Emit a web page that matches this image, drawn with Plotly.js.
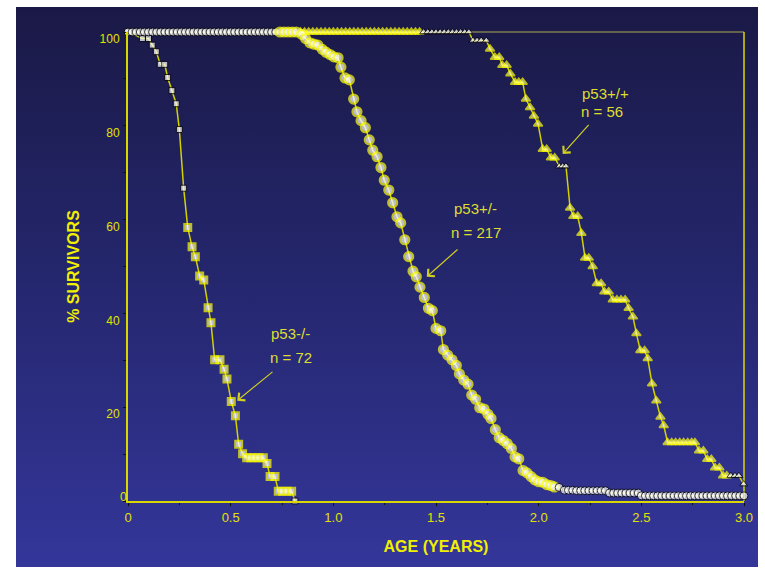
<!DOCTYPE html>
<html><head><meta charset="utf-8">
<script src="https://cdn.plot.ly/plotly-3.0.1.min.js"></script>
<style>
html,body{margin:0;padding:0;background:#ffffff;width:765px;height:573px;overflow:hidden;}
#bg{position:absolute;left:16px;top:7px;width:742px;height:560px;background:linear-gradient(to bottom,#1a1946 0%,#25276f 50%,#34369a 100%);}
#chart{position:absolute;left:0;top:0;width:765px;height:573px;}
</style></head><body><div id="bg"></div><div id="chart"></div>
<script>
// ---- p53-/- (squares), n = 72 ----
const koAge = [0, 0.07, 0.10, 0.118, 0.138, 0.157, 0.179, 0.193, 0.214, 0.235, 0.250, 0.271,
  0.291, 0.312, 0.328, 0.349, 0.369, 0.390, 0.404, 0.422, 0.448, 0.468,
  0.482, 0.503, 0.523, 0.539, 0.558, 0.578, 0.598, 0.618, 0.638, 0.659,
  0.677, 0.692, 0.716, 0.732, 0.753, 0.775, 0.797, 0.813];
const koSurv = [100, 98.6, 98.6, 97.2, 95.8, 93.1, 93.1, 90.3, 87.5, 84.7, 79.2, 66.7,
  58.3, 54.2, 52.1, 48.0, 47.1, 41.2, 38.0, 30.1, 30.1, 28.1,
  26.0, 21.2, 18.2, 12.1, 10.1, 9.2, 9.2, 9.2, 9.2, 9.2,
  8.0, 5.2, 5.2, 2.1, 2.1, 2.1, 2.1, 0];

// ---- p53+/- (circles), n = 217 ----
const hetAge = [0, 0.02, 0.04, 0.06, 0.08, 0.10, 0.12, 0.14, 0.16, 0.18, 0.20, 0.22, 0.24, 0.26, 0.28, 0.30,
  0.32, 0.34, 0.36, 0.38, 0.40, 0.42, 0.44, 0.46, 0.48, 0.50, 0.52, 0.54, 0.56, 0.58, 0.60, 0.62, 0.64,
  0.66, 0.68, 0.70, 0.72,
  0.74, 0.76, 0.78, 0.80, 0.82,
  0.846, 0.865, 0.886, 0.906, 0.925, 0.946, 0.964, 0.984, 1.002, 1.023,
  1.037, 1.057, 1.078, 1.099, 1.115, 1.135, 1.156, 1.175, 1.192, 1.213,
  1.232, 1.248, 1.270, 1.289, 1.310, 1.328, 1.348, 1.367, 1.388, 1.404,
  1.422, 1.443, 1.463, 1.482, 1.500, 1.523, 1.536, 1.557, 1.578, 1.599,
  1.614, 1.635, 1.656, 1.674, 1.693, 1.713, 1.734, 1.753, 1.768, 1.789,
  1.808, 1.828, 1.847, 1.867, 1.885, 1.903, 1.924, 1.943, 1.963, 1.981,
  2.000, 2.020, 2.039, 2.059, 2.076,
  2.100, 2.125, 2.145, 2.166, 2.185,
  2.205, 2.225, 2.245, 2.265, 2.285, 2.305, 2.325,
  2.345, 2.365, 2.385, 2.405, 2.425, 2.445, 2.465, 2.485,
  2.50, 2.52, 2.54, 2.56, 2.58, 2.60, 2.62, 2.64, 2.66, 2.68, 2.70, 2.72, 2.74,
  2.76, 2.78, 2.80, 2.82, 2.84, 2.86, 2.88, 2.90, 2.92, 2.94, 2.96, 2.98, 3.00];
const hetSurv = [100, 100, 100, 100, 100, 100, 100, 100, 100, 100, 100, 100, 100, 100, 100, 100,
  100, 100, 100, 100, 100, 100, 100, 100, 100, 100, 100, 100, 100, 100, 100, 100, 100,
  100, 100, 100, 100,
  100, 100, 100, 100, 100,
  99.5, 98.6, 97.7, 97.4, 97.2, 96.3, 95.7, 95.2, 94.7, 94.5,
  92.5, 90.2, 89.8, 85.7, 83.0, 81.1, 79.6, 77.0, 74.8, 73.4,
  71.1, 68.4, 66.3, 63.6, 60.6, 59.3, 55.7, 52.1, 49.0, 47.8,
  45.6, 43.4, 41.1, 40.6, 36.8, 36.3, 32.3, 31.1, 30.1, 28.9,
  27.1, 25.8, 24.9, 22.6, 21.7, 19.9, 19.6, 18.5, 17.6, 15.2,
  13.5, 12.9, 12.2, 11.2, 9.4, 9.0, 6.5, 6.0, 5.2, 4.5,
  4.1, 4.0, 3.5, 3.3, 3.0,
  2.9, 2.3, 2.3, 2.3, 2.2,
  2.2, 2.2, 2.2, 2.2, 2.2, 2.2, 2.2,
  1.7, 1.7, 1.7, 1.7, 1.7, 1.7, 1.7, 1.7,
  1.1, 1.1, 1.1, 1.1, 1.1, 1.1, 1.1, 1.1, 1.1, 1.1, 1.1, 1.1, 1.1,
  1.1, 1.1, 1.1, 1.1, 1.1, 1.1, 1.1, 1.1, 1.1, 1.1, 1.1, 1.1, 1.1];

// ---- p53+/+ (triangles), n = 56 ----
const wtAge = [0.84, 0.86, 0.88, 0.90, 0.92, 0.94, 0.96, 0.98, 1.00, 1.02, 1.04, 1.06, 1.08, 1.10, 1.12,
  1.14, 1.16, 1.18, 1.20, 1.22, 1.24, 1.26, 1.28, 1.30, 1.32, 1.34, 1.36, 1.38, 1.40, 1.42,
  1.44, 1.46, 1.48, 1.50, 1.52, 1.54, 1.56, 1.58, 1.60, 1.62, 1.64, 1.66,
  1.68, 1.70, 1.72, 1.745,
  1.763, 1.787, 1.808, 1.823, 1.844, 1.862, 1.885, 1.903, 1.922, 1.938, 1.958, 1.977, 1.997, 2.020, 2.039, 2.060, 2.078,
  2.101, 2.117, 2.133,
  2.153, 2.169, 2.190, 2.208, 2.226, 2.244, 2.263, 2.283, 2.304, 2.320,
  2.341, 2.361, 2.381, 2.401, 2.421, 2.438, 2.459, 2.476, 2.495, 2.516,
  2.531, 2.552, 2.573, 2.593, 2.609, 2.628, 2.648, 2.667, 2.687, 2.706,
  2.726, 2.745, 2.761, 2.781, 2.802, 2.821, 2.841, 2.859, 2.880, 2.898, 2.916,
  2.936, 2.956, 2.975, 2.998];
const wtSurv = [100, 100, 100, 100, 100, 100, 100, 100, 100, 100, 100, 100, 100, 100, 100,
  100, 100, 100, 100, 100, 100, 100, 100, 100, 100, 100, 100, 100, 100, 100,
  100, 100, 100, 100, 100, 100, 100, 100, 100, 100, 100, 100,
  98.2, 98.2, 98.2, 98.2,
  96.4, 94.6, 94.6, 92.9, 92.9, 91.1, 89.3, 89.3, 89.3, 85.7, 83.9, 82.1, 80.4, 75.0, 75.0, 73.2, 73.2,
  71.4, 71.4, 71.4,
  62.5, 60.7, 60.7, 57.1, 51.8, 51.8, 50.0, 46.4, 46.4, 44.6,
  44.6, 42.9, 42.9, 42.9, 42.9, 41.1, 39.3, 35.7, 32.1, 32.1,
  30.4, 25.0, 21.4, 17.9, 16.1, 12.5, 12.5, 12.5, 12.5, 12.5,
  12.5, 12.5, 12.5, 10.7, 10.7, 8.9, 8.9, 7.1, 7.1, 5.4, 5.4,
  5.4, 5.4, 5.4, 3.6];

// axis tick labels
const xTickVals = [0, 0.5, 1.0, 1.5, 2.0, 2.5, 3.0];
const xTickText = ['0', '0.5', '1.0', '1.5', '2.0', '2.5', '3.0'];
const yTickVals = [0, 10, 20, 30, 40, 50, 60, 70, 80, 90, 100];
const yTickText = ['', '', '20', '', '40', '', '60', '', '80', '', '100'];

// ---- styling (age ranges drawn with white/black "plain" markers) ----
const koPlain = [[0, 0.28], [0.80, 0.9]];
const hetPlain = [[0, 0.73], [2.09, 3.01]];
const wtPlain = [[1.43, 1.76], [2.09, 2.14], [2.93, 3.01]];

const FONT = 'Liberation Sans, Arial, Helvetica, sans-serif';
const YEL = '#e2e200';

function inRanges(t, ranges) { return ranges.some(r => t >= r[0] && t <= r[1]); }
function makeTrace(T, S, ranges, sym, size, evFill, evLine, evW, plainSize) {
  const p = T.map(t => inRanges(t, ranges));
  return {
    x: T, y: S, type: 'scatter', mode: 'lines+markers', cliponaxis: false,
    line: { color: '#d2d200', width: 1.5 },
    marker: {
      symbol: sym,
      size: p.map(w => w ? plainSize : size),
      color: p.map(w => w ? '#ffffff' : evFill),
      line: { color: p.map(w => w ? '#000000' : evLine), width: p.map(w => w ? 1 : evW) }
    },
    hoverinfo: 'skip', showlegend: false
  };
}

const traces = [
  makeTrace(koAge, koSurv, koPlain, 'square', 7, '#ffffff', '#ffff00', 2, 6),
  makeTrace(wtAge, wtSurv, wtPlain, 'triangle-up', 8, '#ffffa8', '#ffff00', 1.5, 7),
  makeTrace(hetAge, hetSurv, hetPlain, 'circle', 9, '#ffffff', '#ffff10', 2.2, 8)
];

const txtFont = { family: FONT, size: 15, color: '#dede30' };
const arrowCol = '#cfcf20';
function label(x, y, t) { return { x: x, y: y, xref: 'x', yref: 'y', text: t, showarrow: false, xanchor: 'left', yanchor: 'middle', font: txtFont }; }
function arrow(x, y, ax, ay) {
  return { x: x, y: y, ax: ax, ay: ay, xref: 'x', yref: 'y', axref: 'x', ayref: 'y', text: '',
    showarrow: true, arrowhead: 4, arrowsize: 1.6, arrowwidth: 1.2, arrowcolor: arrowCol };
}

const layout = {
  width: 765, height: 573,
  margin: { l: 128, r: 21, t: 32, b: 72 },
  paper_bgcolor: 'rgba(0,0,0,0)', plot_bgcolor: 'rgba(0,0,0,0)',
  font: { family: FONT, color: YEL },
  xaxis: {
    range: [0, 3], tickmode: 'array', tickvals: xTickVals, ticktext: xTickText,
    ticks: 'outside', ticklen: 3, tickwidth: 1, tickcolor: '#111111',
    minor: { dtick: 0.25, tick0: 0, ticks: 'outside', ticklen: 2, tickcolor: '#111111' },
    showline: true, linecolor: '#d8d800', linewidth: 2, showgrid: false, zeroline: false,
    tickfont: { family: FONT, size: 13, color: YEL },
    title: { text: '<b>AGE (YEARS)</b>', font: { family: FONT, size: 16, color: '#f0f000' }, standoff: 17 }
  },
  yaxis: {
    range: [0, 100], tickmode: 'array', tickvals: yTickVals, ticktext: yTickText,
    ticks: 'outside', ticklen: 3, tickwidth: 1, tickcolor: '#111111',
    ticklabelshift: 7, ticklabelstandoff: 1,
    showline: true, linecolor: '#d8d800', linewidth: 2, showgrid: false, zeroline: false,
    tickfont: { family: FONT, size: 12, color: YEL },
    title: { text: '<b>% SURVIVORS</b>', font: { family: FONT, size: 16, color: '#f0f000' }, standoff: 16 }
  },
  shapes: [
    { type: 'line', xref: 'paper', yref: 'paper', x0: 0, x1: 1, y0: 1, y1: 1, layer: 'below', line: { color: '#7d7b4e', width: 1.5 } },
    { type: 'line', xref: 'paper', yref: 'paper', x0: 1, x1: 1, y0: 0, y1: 1, layer: 'below', line: { color: '#d8d800', width: 1.5 } }
  ],
  annotations: [
    { x: -0.0065, y: 0.0085, xref: 'paper', yref: 'paper', text: '0', showarrow: false, xanchor: 'center', yanchor: 'middle', font: { family: FONT, size: 12, color: YEL } },
    label(0.687, 35.8, 'p53-/-'),
    label(0.683, 30.6, 'n = 72'),
    label(1.576, 62.4, 'p53+/-'),
    label(1.563, 57.2, 'n = 217'),
    label(2.201, 86.9, 'p53+/+'),
    label(2.198, 83.0, 'n = 56'),
    arrow(0.532, 21.4, 0.711, 27.8),
    arrow(1.455, 47.8, 1.612, 53.9),
    arrow(2.117, 74.0, 2.250, 80.5)
  ]
};

Plotly.newPlot('chart', traces, layout, { displayModeBar: false, staticPlot: true });
</script></body></html>
